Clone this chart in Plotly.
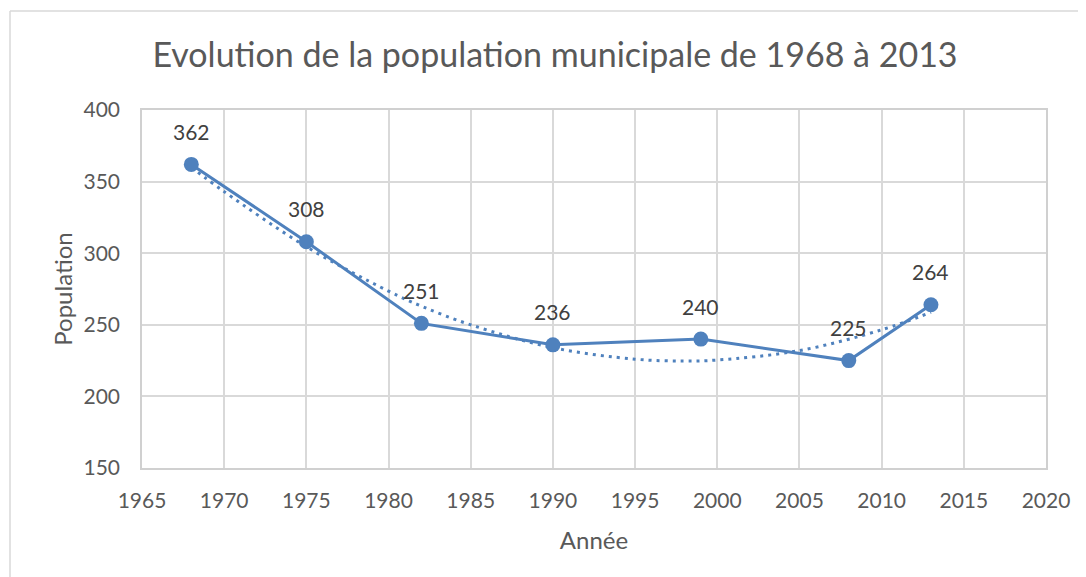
import plotly.graph_objects as go

# Data
years = [1968, 1975, 1982, 1990, 1999, 2008, 2013]
population = [362, 308, 251, 236, 240, 225, 264]

# Dotted trend curve
trend_years = [1968, 1970, 1975, 1980, 1982, 1985, 1990, 1995, 1998, 2000, 2005, 2010, 2013]
trend_values = [360, 343, 304.5, 273.5, 263, 250, 234, 226, 224.7, 225.4, 232, 246.5, 258.7]

x_ticks = [1965, 1970, 1975, 1980, 1985, 1990, 1995, 2000, 2005, 2010, 2015, 2020]
y_ticks = [150, 200, 250, 300, 350, 400]

title_text = "Evolution de la population municipale de 1968 à 2013"
x_title = "Année"
y_title = "Population"

BLUE = "#4F81BD"
FONT = "Lato, Calibri, Arial, sans-serif"

OFF = 8  # default body margin of the page
W, H = 1086 - OFF, 577 - OFF
L, R, T, B = 142 - OFF, 40, 110 - OFF, 109

fig = go.Figure()

fig.add_trace(go.Scatter(
    x=trend_years, y=trend_values, mode="lines",
    line=dict(color=BLUE, width=3, dash="3px,5px", shape="spline", smoothing=1.0),
    hoverinfo="skip", showlegend=False,
))

fig.add_trace(go.Scatter(
    x=years, y=population, mode="lines+markers",
    line=dict(color=BLUE, width=3),
    marker=dict(color=BLUE, size=15),
    showlegend=False,
))

for xv, yv in zip(years, population):
    fig.add_annotation(
        x=xv, y=yv, text=str(yv), showarrow=False, yshift=33,
        font=dict(family=FONT, size=21, color="#404040"),
        xanchor="center", yanchor="middle",
    )

pw = W - L - R
ph = H - T - B
bx = 10 - OFF
by = 11 - OFF
# chart area border (top and left edges visible in the reference)
fig.add_shape(type="line", xref="paper", yref="paper",
              x0=(bx - L) / pw, x1=(W + 20 - L) / pw,
              y0=1 + (T - by) / ph, y1=1 + (T - by) / ph,
              line=dict(color="#d9d9d9", width=1.5))
fig.add_shape(type="line", xref="paper", yref="paper",
              x0=(bx - L) / pw, x1=(bx - L) / pw,
              y0=1 + (T - by) / ph, y1=-(B + 20) / ph,
              line=dict(color="#d9d9d9", width=1.5))

fig.update_layout(
    width=W, height=H,
    margin=dict(l=L, r=R, t=T, b=B),
    paper_bgcolor="white", plot_bgcolor="white",
    font=dict(family=FONT, color="#595959"),
    title=dict(text=title_text, x=(555 - OFF) / W, xref="container", xanchor="center",
               y=1 - (55 - OFF) / H, yref="container", yanchor="middle",
               font=dict(family=FONT, size=34, color="#595959")),
)

fig.update_xaxes(
    range=[1965, 2020], tickvals=x_ticks, ticktext=[str(v) for v in x_ticks],
    showgrid=True, gridcolor="#d9d9d9", gridwidth=1.5,
    showline=True, linecolor="#d0d0d0", linewidth=1.5, mirror=True,
    zeroline=False, ticks="", ticklabelstandoff=13,
    tickfont=dict(family=FONT, size=21, color="#595959"),
    title=dict(text=x_title, font=dict(family=FONT, size=24, color="#595959"), standoff=21),
)
fig.update_yaxes(
    range=[150, 400], tickvals=y_ticks, ticktext=[str(v) for v in y_ticks],
    showgrid=True, gridcolor="#d9d9d9", gridwidth=1.5,
    showline=True, linecolor="#d0d0d0", linewidth=1.5, mirror=True,
    zeroline=False, ticks="", ticklabelstandoff=16,
    tickfont=dict(family=FONT, size=21, color="#595959"),
    title=dict(text=y_title, font=dict(family=FONT, size=24, color="#595959"), standoff=4),
)

fig.write_html("out.html")
